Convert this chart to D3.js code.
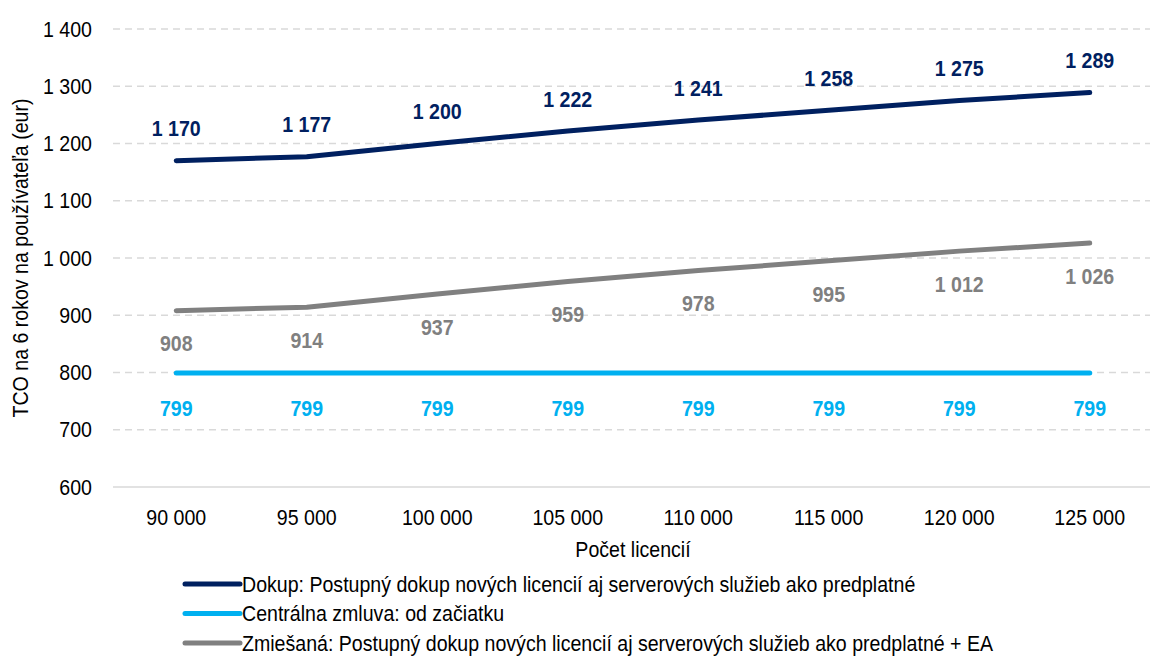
<!DOCTYPE html>
<html>
<head>
<meta charset="utf-8">
<script src="https://cdn.jsdelivr.net/npm/d3@7"></script>
<style>
body { margin:0; background:#fff; }
text { font-family: "Liberation Sans", Arial, sans-serif; }
</style>
</head>
<body>
<svg id="chart" width="1152" height="656"></svg>
<script>
var licences= [90000, 95000, 100000, 105000, 110000, 115000, 120000, 125000];
var dokup= [1170, 1177, 1200, 1222, 1241, 1258, 1275, 1289];
var centralna= [799, 799, 799, 799, 799, 799, 799, 799];
var zmiesana= [908, 914, 937, 959, 978, 995, 1012, 1026];
var yTicks= [600, 700, 800, 900, 1000, 1100, 1200, 1300, 1400];

var series= [
    {name:"Dokup: Postupný dokup nových licencií aj serverových služieb ako predplatné", values:dokup, color:"#002060", dy:-32},
    {name:"Centrálna zmluva: od začiatku", values:centralna, color:"#00B0F0", dy:35},
    {name:"Zmiešaná: Postupný dokup nových licencií aj serverových služieb ako predplatné + EA", values:zmiesana, color:"#808080", dy:33}
];

var fs= 22;   //font size
var sx= 0.89; //narrow font look: squeeze text horizontally

var svg= d3.select("#chart");

// space as thousands separator
function fmt(v) { return d3.format(",")(v).replace(/,/g, " "); }

var x= d3.scalePoint().domain(licences).range([111, 1155]).padding(0.5);
var y= d3.scaleLinear().domain([600, 1400]).range([487, 29]);

//gridlines
svg.append("g").selectAll("line")
    .data(yTicks)
    .enter().append("line")
    .attr("x1", 113).attr("x2", 1150)
    .attr("y1", function(d) { return y(d); })
    .attr("y2", function(d) { return y(d); })
    .attr("stroke", "#d9d9d9")
    .attr("stroke-width", 1.5)
    .attr("stroke-dasharray", function(d) { return d == 600 ? null : "7,5"; });

var lineGen= d3.line()
    .x(function(d, i) { return x(licences[i]); })
    .y(function(d) { return y(d); });

series.forEach(function(s) {
    svg.append("path")
        .attr("d", lineGen(s.values))
        .attr("fill", "none")
        .attr("stroke", s.color)
        .attr("stroke-width", 5)
        .attr("stroke-linecap", "round")
        .attr("stroke-linejoin", "round");
});

//all text lives in a squeezed group, so x positions are divided by sx
var txt= svg.append("g").attr("transform", "scale(" + sx + ",1)");

//y tick labels
txt.append("g").selectAll("text")
    .data(yTicks)
    .enter().append("text")
    .attr("x", 92/sx)
    .attr("y", function(d) { return y(d); })
    .attr("dy", "0.35em")
    .attr("text-anchor", "end")
    .attr("font-size", fs)
    .text(fmt);

//x tick labels
txt.append("g").selectAll("text")
    .data(licences)
    .enter().append("text")
    .attr("x", function(d) { return x(d)/sx; })
    .attr("y", 517)
    .attr("dy", "0.35em")
    .attr("text-anchor", "middle")
    .attr("font-size", fs)
    .text(fmt);

txt.append("text")
    .attr("x", 633/sx).attr("y", 549).attr("dy", "0.35em")
    .attr("text-anchor", "middle")
    .attr("font-size", fs)
    .text("Počet licencií");

//data labels
series.forEach(function(s) {
    txt.append("g").selectAll("text")
        .data(s.values)
        .enter().append("text")
        .attr("x", function(d, i) { return x(licences[i])/sx; })
        .attr("y", function(d) { return y(d) + s.dy; })
        .attr("dy", "0.35em")
        .attr("text-anchor", "middle")
        .attr("font-size", fs)
        .attr("font-weight", "bold")
        .attr("fill", s.color)
        .text(fmt);
});

svg.append("text")
    .attr("transform", "translate(20,258) rotate(-90) scale(" + sx + ",1)")
    .attr("dy", "0.35em")
    .attr("text-anchor", "middle")
    .attr("font-size", fs)
    .text("TCO na 6 rokov na používateľa (eur)");

//legend
var leg= svg.append("g").selectAll("g")
    .data(series)
    .enter().append("g")
    .attr("transform", function(d, i) { return "translate(0," + (584 + i*29.5) + ")"; });

leg.append("line")
    .attr("x1", 185).attr("x2", 240)
    .attr("stroke", function(d) { return d.color; })
    .attr("stroke-width", 5)
    .attr("stroke-linecap", "round");

leg.append("text")
    .attr("transform", "translate(242,0) scale(" + sx + ",1)")
    .attr("dy", "0.35em")
    .attr("font-size", fs)
    .text(function(d) { return d.name; });
</script>
</body>
</html>
